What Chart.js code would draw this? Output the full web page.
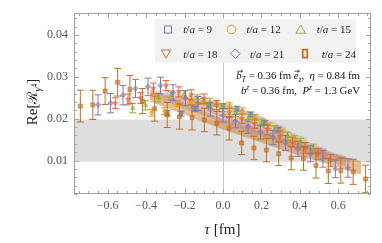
<!DOCTYPE html>
<html><head><meta charset="utf-8">
<script src="https://cdn.jsdelivr.net/npm/chart.js@4.4.1/dist/chart.umd.min.js"></script>
<style>html,body{margin:0;padding:0;background:#fff}#c{display:block}</style>
</head><body>
<canvas id="c" width="382" height="243"></canvas>
<script>
// ---------------- data ----------------
const xTicks = [-0.6, -0.4, -0.2, 0.0, 0.2, 0.4, 0.6];
const yTicks = [0.01, 0.02, 0.03, 0.04];
const grayBand = [0.0097, 0.0198];
const seriesNames = ['9', '12', '15', '18', '21', '24'];

const tau9 = [-0.29,-0.218,-0.145,-0.073,0,0.073,0.145,0.218,0.29];
const val9 = [0.0213,0.0212,0.0224,0.0232,0.0230,0.0224,0.0210,0.0190,0.0174];
const err9 = [0.0006,0.0006,0.0006,0.0006,0.0006,0.0006,0.0006,0.0006,0.0006];

const tau12 = [-0.37,-0.303,-0.236,-0.168,-0.101,-0.034,0.034,0.101,0.168,0.236,0.303,0.37];
const val12 = [0.0214,0.0218,0.0236,0.0240,0.0241,0.0237,0.0231,0.0219,0.0203,0.0183,0.0167,0.0152];
const err12 = [0.0008,0.0008,0.0007,0.0007,0.0007,0.0007,0.0007,0.0007,0.0007,0.0007,0.0008,0.0008];

const tau15 = [-0.47,-0.403,-0.336,-0.269,-0.201,-0.134,-0.067,0,0.067,0.134,0.201,0.269,0.336,0.403,0.47];
const val15 = [0.0225,0.0232,0.0250,0.0256,0.0258,0.0248,0.0240,0.0226,0.0214,0.0202,0.0190,0.0174,0.0158,0.0143,0.0128];
const err15 = [0.0011,0.0011,0.0010,0.0010,0.0009,0.0009,0.0009,0.0009,0.0009,0.0009,0.0009,0.0009,0.0010,0.0010,0.0011];

const tau18 = [-0.56,-0.494,-0.428,-0.362,-0.296,-0.23,-0.165,-0.099,-0.033,0.033,0.099,0.165,0.23,0.296,0.362,0.428,0.494,0.56];
const val18 = [0.0237,0.0246,0.0249,0.0272,0.0279,0.0264,0.0257,0.0248,0.0232,0.0214,0.0200,0.0188,0.0173,0.0158,0.0144,0.0130,0.0116,0.0100];
const err18 = [0.0013,0.0013,0.0013,0.0013,0.0012,0.0012,0.0012,0.0011,0.0011,0.0011,0.0011,0.0011,0.0012,0.0012,0.0012,0.0013,0.0013,0.0014];

const tau21 = [-0.65,-0.585,-0.52,-0.455,-0.39,-0.325,-0.26,-0.195,-0.13,-0.065,0,0.065,0.13,0.195,0.26,0.325,0.39,0.455,0.52,0.585,0.65];
const val21 = [0.0233,0.0237,0.0256,0.0272,0.0276,0.0279,0.0262,0.0249,0.0236,0.0222,0.0208,0.0194,0.0181,0.0168,0.0155,0.0142,0.0128,0.0116,0.0104,0.0080,0.0082];
const err21 = [0.0024,0.0023,0.0023,0.0022,0.0021,0.0020,0.0019,0.0018,0.0017,0.0016,0.0016,0.0016,0.0016,0.0017,0.0017,0.0018,0.0018,0.0019,0.0020,0.0021,0.0022];

const tau24 = [-0.742,-0.677,-0.613,-0.548,-0.484,-0.419,-0.355,-0.29,-0.226,-0.161,-0.097,-0.032,0.032,0.097,0.161,0.226,0.29,0.355,0.419,0.484,0.548,0.613,0.677,0.742];
const val24 = [0.0230,0.0233,0.0266,0.0287,0.0270,0.0242,0.0224,0.0209,0.0205,0.0203,0.0197,0.0189,0.0177,0.0142,0.0130,0.0125,0.0116,0.0106,0.0105,0.0088,0.0075,0.0076,0.0073,0.0056];
const err24 = [0.0038,0.0035,0.0032,0.0033,0.0033,0.0030,0.0030,0.0030,0.0030,0.0030,0.0028,0.0028,0.0028,0.0028,0.0028,0.0028,0.0028,0.0028,0.0028,0.0030,0.0030,0.0030,0.0030,0.0033];

// fit bands: tau, centre, half width
const band9Tau = [-0.12, 0, 0.12, 0.22],  band9Mid = [0.0240,0.0231,0.0215,0.0196], band9Half = [0.0006,0.0006,0.0006,0.0006];
const band12Tau = [-0.18, 0, 0.18, 0.33], band12Mid = [0.0250,0.0230,0.0202,0.0172], band12Half = [0.0007,0.0007,0.0007,0.0007];
const band15Tau = [-0.24, 0, 0.24, 0.44], band15Mid = [0.0258,0.0220,0.0180,0.0144], band15Half = [0.0008,0.0008,0.0008,0.0009];
const band18Tau = [-0.30, 0, 0.30, 0.54], band18Mid = [0.0262,0.0210,0.0158,0.0118], band18Half = [0.0009,0.0008,0.0008,0.0010];
const band21Tau = [-0.34, 0, 0.33, 0.64], band21Mid = [0.0258,0.0200,0.0145,0.0098], band21Half = [0.0011,0.0009,0.0009,0.0012];
const band24Tau = [-0.38, 0, 0.35, 0.72], band24Mid = [0.0256,0.0187,0.0132,0.0082], band24Half = [0.0015,0.0013,0.0013,0.0016];

// ---------------- styling ----------------
const colors = ['#5E81B5', '#E19C24', '#8FB032', '#EB6235', '#8778B3', '#C56E1A'];
const bandAlpha = [0.25, 0.3, 0.3, 0.32, 0.28, 0.45];
const FAM = 'Liberation Serif';
function rgba(hex, a){const n=parseInt(hex.slice(1),16);return `rgba(${n>>16},${(n>>8)&255},${n&255},${a})`;}

const taus = [tau9,tau12,tau15,tau18,tau21,tau24];
const vals = [val9,val12,val15,val18,val21,val24];
const errs = [err9,err12,err15,err18,err21,err24];
const bands = [[band9Tau,band9Mid,band9Half],[band12Tau,band12Mid,band12Half],[band15Tau,band15Mid,band15Half],
               [band18Tau,band18Mid,band18Half],[band21Tau,band21Mid,band21Half],[band24Tau,band24Mid,band24Half]];
const styles = [
  {ps:'rect', r:2.6, rot:0},
  {ps:'circle', r:2.0, rot:0},
  {ps:'triangle', r:2.6, rot:0},
  {ps:'triangle', r:2.6, rot:180},
  {ps:'rectRot', r:2.6, rot:0},
  {ps:'rect', r:2.8, rot:0}
];

const datasets = [];
bands.forEach((b, k) => {
  const [t, m, h] = b;
  const lowIdx = datasets.length;
  datasets.push({type:'line', data:t.map((x,i)=>({x, y:m[i]-h[i]})), borderWidth:0, pointRadius:0, fill:false, order:60-k, showLine:true, borderColor:'rgba(0,0,0,0)'});
  datasets.push({type:'line', data:t.map((x,i)=>({x, y:m[i]+h[i]})), borderWidth:0, pointRadius:0, order:60-k, showLine:true, borderColor:'rgba(0,0,0,0)',
    fill:{target:lowIdx}, backgroundColor:rgba(colors[k], bandAlpha[k])});
});
taus.forEach((t, k) => {
  datasets.push({
    type:'scatter', label:'t/a = '+seriesNames[k],
    data:t.map((x,i)=>({x, y:vals[k][i]})),
    errs:errs[k], errColor:colors[k],
    pointStyle:styles[k].ps, pointRadius:styles[k].r, rotation:styles[k].rot,
    pointBackgroundColor:rgba(colors[k],0.55), pointBorderColor:rgba(colors[k],0.85), pointBorderWidth:0.8,
    order:10-k
  });
});

function drawRich(ctx, segs, x, yBase, size, align){
  const setF = s => { ctx.font = (s.it?'italic ':'') + (size*(s.sc||1)).toFixed(2)+'px "'+(s.fam||FAM)+'"'; };
  let w = 0;
  segs.forEach(s => { setF(s); s.w = ctx.measureText(s.t).width; w += s.w; });
  let cx = align==='right' ? x-w : align==='center' ? x-w/2 : x;
  ctx.textAlign='left'; ctx.textBaseline='alphabetic';
  segs.forEach(s => {
    setF(s);
    const by = yBase + (s.dy||0)*size;
    ctx.fillText(s.t, cx, by);
    if(s.vec){
      const ay = by - size*0.72, x1 = cx + s.w*0.15, x2 = cx + s.w + 0.8;
      ctx.save(); ctx.strokeStyle = ctx.fillStyle; ctx.lineWidth = 0.7;
      ctx.beginPath(); ctx.moveTo(x1, ay); ctx.lineTo(x2, ay);
      ctx.moveTo(x2-1.8, ay-1.3); ctx.lineTo(x2, ay); ctx.lineTo(x2-1.8, ay+1.3);
      ctx.stroke(); ctx.restore();
    }
    cx += s.w;
  });
}

function legendMarker(ctx, k, x, y){
  ctx.save();
  ctx.strokeStyle = colors[k]; ctx.lineWidth = 1; ctx.beginPath();
  if(k===0){ ctx.rect(x-3.5, y-3.5, 7, 7); }
  else if(k===1){ ctx.arc(x, y, 4.3, 0, Math.PI*2); }
  else if(k===2){ ctx.moveTo(x, y-4.5); ctx.lineTo(x+4.8, y+3.8); ctx.lineTo(x-4.8, y+3.8); ctx.closePath(); }
  else if(k===3){ ctx.moveTo(x, y+4.5); ctx.lineTo(x+4.8, y-3.8); ctx.lineTo(x-4.8, y-3.8); ctx.closePath(); }
  else if(k===4){ ctx.moveTo(x, y-4.8); ctx.lineTo(x+4.8, y); ctx.lineTo(x, y+4.8); ctx.lineTo(x-4.8, y); ctx.closePath(); }
  else { ctx.lineWidth = 1.7; ctx.rect(x-2.3, y-4, 4.6, 8); }
  ctx.stroke(); ctx.restore();
}

const deco = {
  id:'deco',
  beforeDatasetsDraw(chart){
    const {ctx, chartArea:a, scales:{x, y}} = chart;
    ctx.save();
    const yt = y.getPixelForValue(grayBand[1]), yb = y.getPixelForValue(grayBand[0]);
    ctx.fillStyle = '#dedede';
    ctx.fillRect(a.left, yt, a.right-a.left, yb-yt);
    const x0 = Math.round(x.getPixelForValue(0)) + 0.5;
    ctx.strokeStyle = '#cccccc'; ctx.lineWidth = 1;
    ctx.beginPath(); ctx.moveTo(x0, a.top); ctx.lineTo(x0, a.bottom); ctx.stroke();
    ctx.restore();
  },
  beforeDatasetDraw(chart, args){
    const ds = chart.data.datasets[args.index];
    if(!ds.errs) return;
    const {ctx, scales:{y}} = chart;
    const meta = args.meta;
    ctx.save();
    ctx.strokeStyle = ds.errColor; ctx.lineWidth = 1;
    meta.data.forEach((pt, i) => {
      const v = ds.data[i].y, e = ds.errs[i];
      const px = pt.x;
      const yt = y.getPixelForValue(v+e), yb = y.getPixelForValue(v-e);
      ctx.beginPath();
      ctx.moveTo(px, yt); ctx.lineTo(px, yb);
      ctx.moveTo(px-3.5, yt); ctx.lineTo(px+3.5, yt);
      ctx.moveTo(px-3.5, yb); ctx.lineTo(px+3.5, yb);
      ctx.stroke();
    });
    ctx.restore();
  },
  afterDraw(chart){
    const {ctx, chartArea:a, scales:{x, y}} = chart;
    ctx.save();
    ctx.strokeStyle = '#a3a3a3'; ctx.lineWidth = 1;
    ctx.strokeRect(Math.round(a.left)+0.5, Math.round(a.top)+0.5, Math.round(a.right-a.left)-1, Math.round(a.bottom-a.top)-1);
    ctx.beginPath();
    const L = Math.round(a.left)+0.5, R = Math.round(a.right)-0.5, T = Math.round(a.top)+0.5, B = Math.round(a.bottom)-0.5;
    for(let i=-15;i<=15;i++){
      const v = i*0.05; if(v < x.min || v > x.max) continue;
      const major = (i % 4 === 0);
      const len = major ? 4.5 : 2.5;
      const px = Math.round(x.getPixelForValue(v))+0.5;
      ctx.moveTo(px, B); ctx.lineTo(px, B-len);
      ctx.moveTo(px, T); ctx.lineTo(px, T+len);
    }
    for(let i=1;i<=22;i++){
      const v = i*0.002; if(v < y.min || v > y.max) continue;
      const major = (i % 5 === 0);
      const len = major ? 4.5 : 2.5;
      const py = Math.round(y.getPixelForValue(v))+0.5;
      ctx.moveTo(L, py); ctx.lineTo(L+len, py);
      ctx.moveTo(R, py); ctx.lineTo(R-len, py);
    }
    ctx.stroke();

    ctx.fillStyle = '#f2f2f2';
    ctx.fillRect(155, 19, 201, 43.5);
    const ent = [
      {k:0, mx:168, tx:183.3, y:29.5}, {k:1, mx:231.5, tx:246.5, y:29.5}, {k:2, mx:300.7, tx:316.7, y:29.5},
      {k:3, mx:166, tx:183.3, y:53.7}, {k:4, mx:235.3, tx:250, y:53.7}, {k:5, mx:305, tx:321.7, y:53.7}
    ];
    ent.forEach(e => {
      legendMarker(ctx, e.k, e.mx, e.y);
      ctx.fillStyle = '#222';
      drawRich(ctx, [{t:'t', it:true}, {t:'/'}, {t:'a', it:true}, {t:' = '+seriesNames[e.k]}], e.tx, e.y+3.8, 11, 'left');
    });

    ctx.fillStyle = '#111';
    drawRich(ctx, [{t:'b', it:true, vec:true}, {t:'T', it:true, sc:0.7, dy:0.25}, {t:' = 0.36 fm '}, {t:'e', it:true, vec:true}, {t:'z', it:true, sc:0.7, dy:0.25},
                   {t:',  '}, {t:'\u03B7', it:true}, {t:' = 0.84 fm'}], 360, 79, 10.8, 'right');
    drawRich(ctx, [{t:'b', it:true}, {t:'z', it:true, sc:0.7, dy:-0.35}, {t:' = 0.36 fm,  '}, {t:'P', it:true}, {t:'z', it:true, sc:0.7, dy:-0.35},
                   {t:' = 1.3 GeV'}], 360, 94, 10.8, 'right');

    ctx.fillStyle = '#222';
    drawRich(ctx, [{t:'\u03C4', it:true}, {t:' [fm]'}], 222.5, 234, 15, 'center');
    ctx.translate(32, 102); ctx.rotate(-Math.PI/2);
    drawRich(ctx, [{t:'Re['}, {t:'\u211B', fam:'DejaVu Serif', sc:0.95}, {t:'\u03B3', it:true, sc:0.68, dy:0.25}, {t:'4', sc:0.5, dy:0.02}, {t:']'}], 0, 5, 15, 'center');
    ctx.restore();
  }
};

new Chart(document.getElementById('c'), {
  type:'scatter',
  data:{datasets},
  options:{
    responsive:false, animation:false, events:[],
    layout:{padding:{left:0, top:10, right:11, bottom:0}},
    plugins:{legend:{display:false}, tooltip:{enabled:false}},
    scales:{
      x:{type:'linear', min:-0.775, max:0.77,
        afterBuildTicks:s=>{s.ticks = xTicks.map(v=>({value:v}));},
        afterFit:s=>{s.height = 49;},
        grid:{display:false, drawTicks:false}, border:{display:false},
        ticks:{autoSkip:false, maxRotation:0, padding:5, color:'#555', font:{family:FAM, size:12},
          callback:v=> (v < -1e-9 ? '\u2212' : '') + Math.abs(v).toFixed(1)}},
      y:{type:'linear', min:0.002, max:0.0452,
        afterBuildTicks:s=>{s.ticks = yTicks.map(v=>({value:v}));},
        afterFit:s=>{s.width = 74;},
        grid:{display:false, drawTicks:false}, border:{display:false},
        ticks:{padding:6, color:'#555', font:{family:FAM, size:12}, callback:v=>v.toFixed(2)}}
    }
  },
  plugins:[deco]
});
</script>
</body></html>
